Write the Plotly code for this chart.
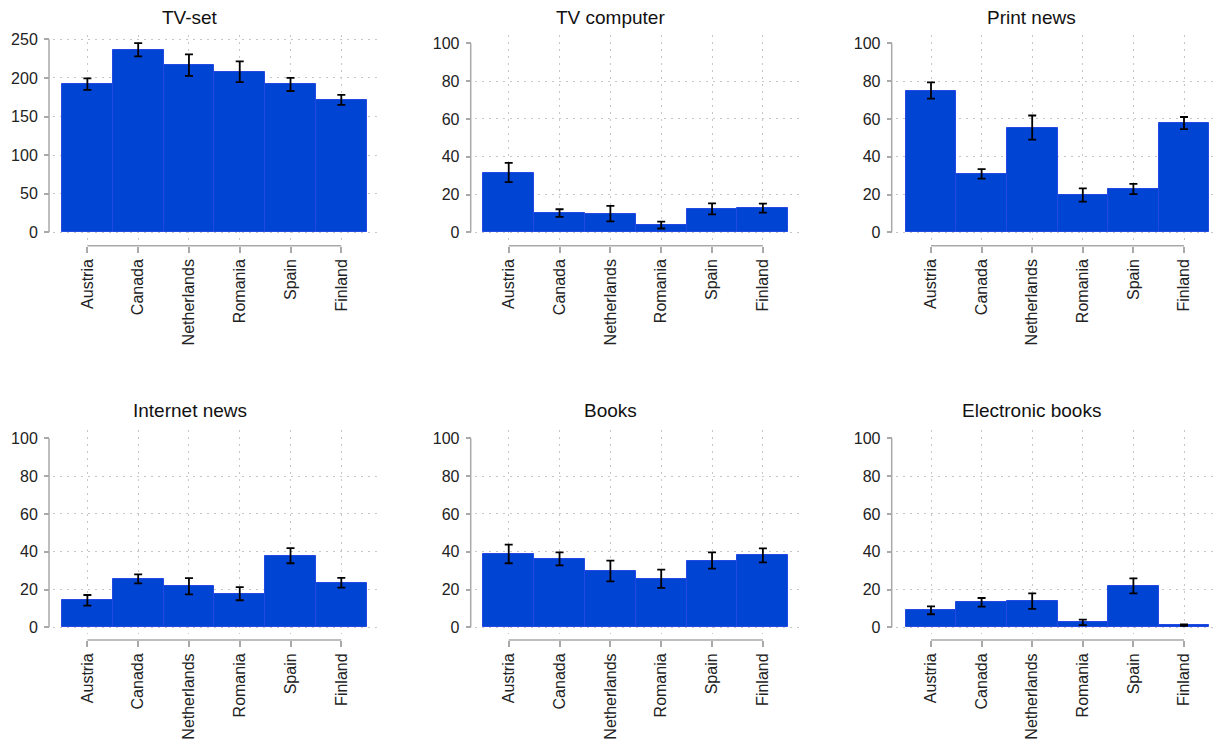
import plotly.graph_objects as go

# Countries shown on every panel
countries = ["Austria", "Canada", "Netherlands", "Romania", "Spain", "Finland"]

panel_titles = ["TV-set", "TV computer", "Print news",
                "Internet news", "Books", "Electronic books"]

# Means and half-widths of the confidence intervals per panel
tv_set = [192.0, 236.5, 216.5, 208.0, 191.5, 171.5]
tv_set_err = [7.5, 8.5, 14.0, 13.5, 8.5, 6.5]

tv_computer = [31.6, 10.2, 9.9, 3.8, 12.4, 12.8]
tv_computer_err = [5.1, 2.0, 4.1, 1.8, 2.9, 2.4]

print_news = [75.0, 30.9, 55.4, 19.7, 22.9, 57.8]
print_news_err = [4.3, 2.5, 6.4, 3.5, 2.7, 3.2]

internet_news = [14.3, 25.6, 21.7, 17.8, 37.9, 23.6]
internet_news_err = [2.8, 2.4, 4.3, 3.5, 4.0, 2.6]

books = [38.8, 36.2, 29.8, 25.7, 35.3, 38.1]
books_err = [4.9, 3.4, 5.5, 4.8, 4.3, 3.7]

ebooks = [9.0, 13.2, 13.8, 2.6, 21.9, 1.2]
ebooks_err = [2.1, 2.3, 4.1, 1.5, 4.0, 0.4]

# Axis ticks (labelled) and dotted grid levels per panel
tv_ticks = [0, 50, 100, 150, 200, 250]
tv_grid = [0, 50, 100, 150, 200, 250]
pct_ticks = [0, 20, 40, 60, 80, 100]
pct_grid = [0, 20, 40, 60, 80]

series = [tv_set, tv_computer, print_news, internet_news, books, ebooks]
errors = [tv_set_err, tv_computer_err, print_news_err,
          internet_news_err, books_err, ebooks_err]
ticks = [tv_ticks, pct_ticks, pct_ticks, pct_ticks, pct_ticks, pct_ticks]
grids = [tv_grid, pct_grid, pct_grid, pct_grid, pct_grid, pct_grid]

# ---- page geometry (pixels) ----
W, H = 1218, 742
cols = [
    dict(axis=49.0, left=53.0, bar_l=62.0, bar_r=366.7, right=377.0, title_x=189.5),
    dict(axis=470.7, left=475.0, bar_l=483.3, bar_r=788.3, right=801.7, title_x=610.0),
    dict(axis=891.7, left=896.0, bar_l=905.7, bar_r=1209.3, right=1217.0, title_x=1031.0),
]
rows = [
    dict(top=35.0, bottom=240.0, axis=245.7, zero=232.3, title_y=17.0),
    dict(top=430.0, bottom=634.0, axis=640.0, zero=627.3, title_y=410.5),
]
top_tick_px = [39.3, 43.3, 43.3, 438.3, 438.3, 438.3]

FONT = "Liberation Sans, Arial, sans-serif"
BAR_FILL = "#0044d4"
BAR_EDGE = "#2448e4"
AXIS_GRAY = "#a9a9a9"
GRID_GRAY = "#c6c6c6"
GRID_DASH = "1.5px,5.5px"

fig = go.Figure()
layout = dict(
    width=W, height=H,
    margin=dict(l=0, r=0, t=0, b=0),
    paper_bgcolor="white", plot_bgcolor="white",
    showlegend=False, bargap=0,
    font=dict(family=FONT, size=16, color="#222222"),
)
shapes = []
annotations = []

n_cat = len(countries)
for i in range(6):
    r, c = divmod(i, 3)
    col, row = cols[c], rows[r]
    k = "" if i == 0 else str(i + 1)
    xname, yname = "x" + k, "y" + k

    fig.add_trace(go.Bar(
        x=countries, y=series[i],
        xaxis=xname, yaxis=yname,
        marker=dict(color=BAR_FILL, line=dict(color=BAR_EDGE, width=1)),
        error_y=dict(type="data", array=errors[i], visible=True,
                     color="black", thickness=1.8, width=4),
        hoverinfo="x+y",
    ))

    # horizontal range so bars fill the area between the measured edges
    w = (col["bar_r"] - col["bar_l"]) / n_cat
    x_range = [-0.5 - (col["bar_l"] - col["left"]) / w,
               n_cat - 0.5 + (col["right"] - col["bar_r"]) / w]

    # vertical range from the pixel positions of zero and the top tick
    top_val = ticks[i][-1]
    s = (row["zero"] - top_tick_px[i]) / top_val
    y_range = [-(row["bottom"] - row["zero"]) / s, (row["zero"] - row["top"]) / s]

    layout["xaxis" + k] = dict(
        domain=[col["left"] / W, col["right"] / W],
        anchor="free", position=1 - row["axis"] / H,
        type="category", range=x_range,
        showline=False, zeroline=False,
        showgrid=True, gridcolor=GRID_GRAY, griddash=GRID_DASH, gridwidth=1.3,
        ticks="outside", ticklen=6, tickwidth=1.5, tickcolor=AXIS_GRAY,
        tickangle=-90, tickfont=dict(family=FONT, size=16, color="#222222"),
        ticklabelstandoff=0,
        automargin=False, fixedrange=True,
    )
    layout["yaxis" + k] = dict(
        domain=[1 - row["bottom"] / H, 1 - row["top"] / H],
        anchor="free", position=col["axis"] / W,
        range=y_range,
        showline=False, zeroline=False, showgrid=False,
        tickmode="array", tickvals=ticks[i],
        ticks="outside", ticklen=5, tickwidth=1.5, tickcolor=AXIS_GRAY,
        tickfont=dict(family=FONT, size=16, color="#222222"),
        ticklabelstandoff=3,
        minor=dict(tickmode="array", tickvals=grids[i], showgrid=True,
                   gridcolor=GRID_GRAY, griddash=GRID_DASH, gridwidth=1.3,
                   ticks=""),
        automargin=False, fixedrange=True,
    )

    # y axis line spanning the labelled ticks only
    shapes.append(dict(
        type="line", xref="paper", yref=yname,
        x0=col["axis"] / W, x1=col["axis"] / W,
        y0=ticks[i][0], y1=ticks[i][-1],
        line=dict(color=AXIS_GRAY, width=1.5),
    ))
    # x axis line from the first to the last category
    shapes.append(dict(
        type="line", xref=xname, yref="paper",
        x0=0, x1=n_cat - 1,
        y0=1 - row["axis"] / H, y1=1 - row["axis"] / H,
        line=dict(color=AXIS_GRAY, width=1.5),
    ))

    annotations.append(dict(
        text=panel_titles[i], xref="paper", yref="paper",
        x=col["title_x"] / W, y=1 - row["title_y"] / H,
        xanchor="center", yanchor="middle", showarrow=False,
        font=dict(family=FONT, size=19, color="#111111"),
    ))

layout["shapes"] = shapes
layout["annotations"] = annotations
fig.update_layout(**layout)

fig.write_html("out.html")
